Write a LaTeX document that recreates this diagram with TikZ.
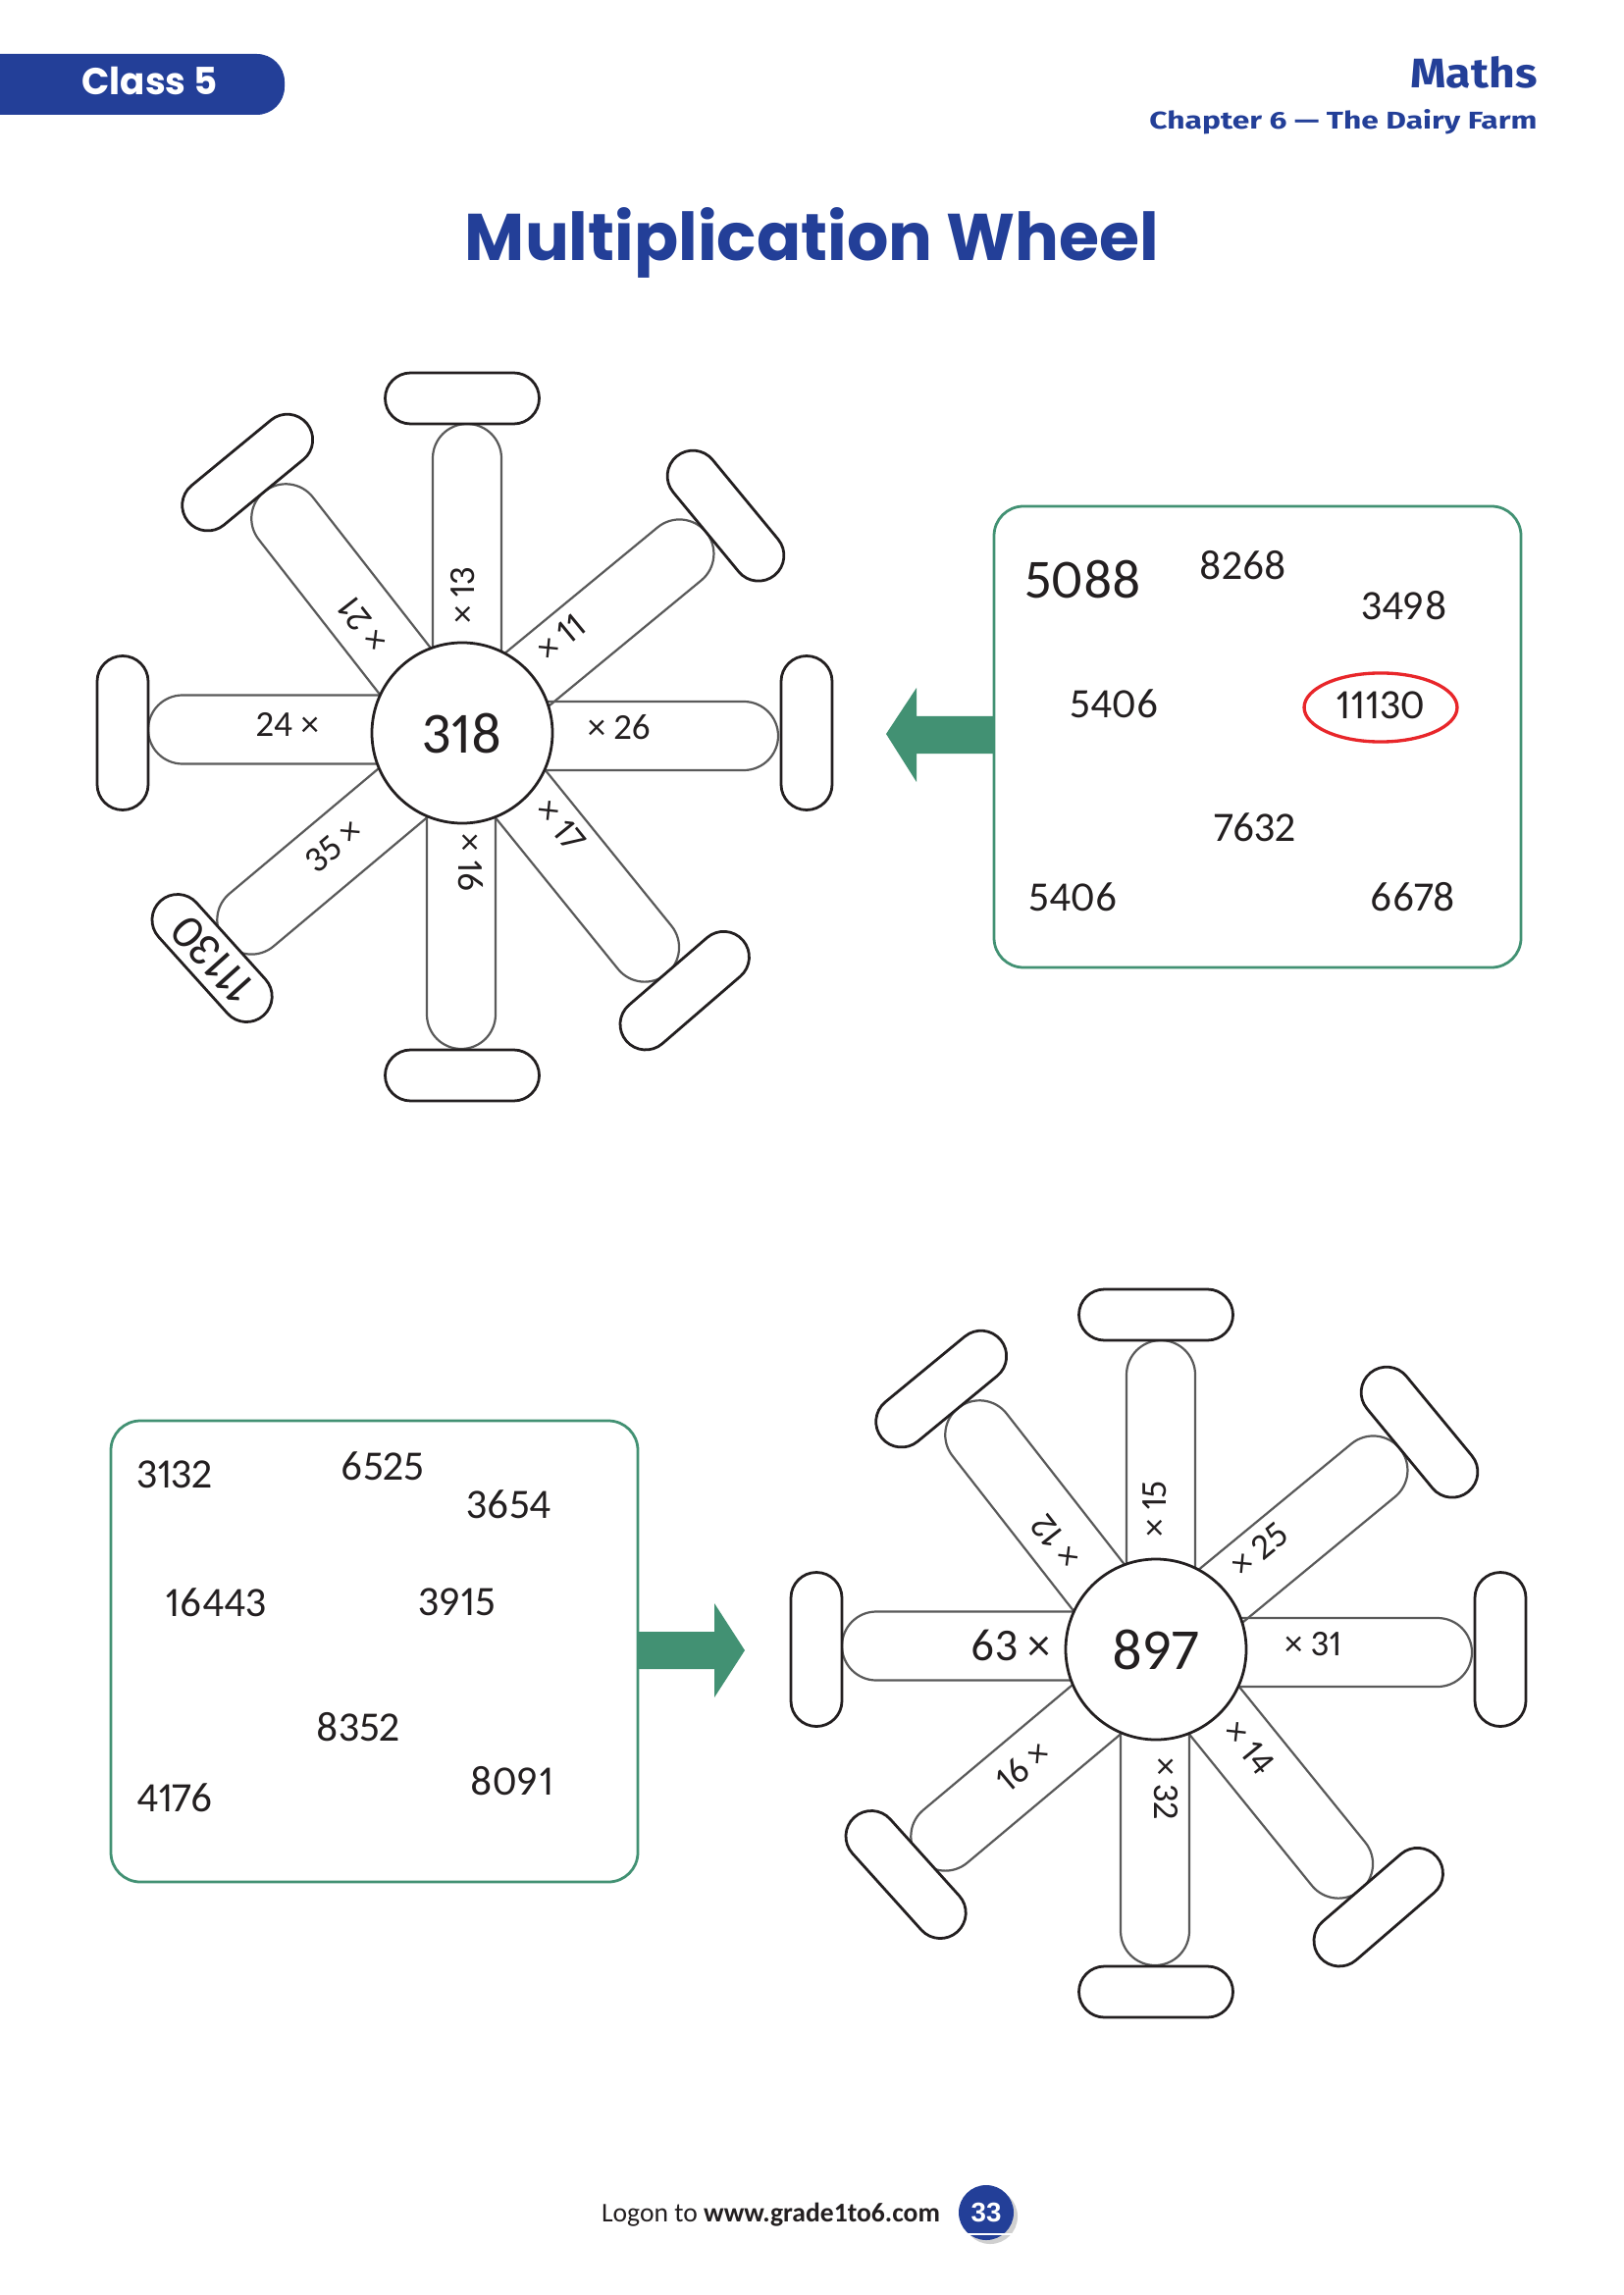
\documentclass[tikz,border=0pt]{standalone}
\usepackage{fontspec}
\setmainfont{Carlito}
\newfontfamily\popfont{Poppins}
\newfontfamily\headfont{Fira Sans}
\newfontfamily\numfont{Carlito}[Numbers=Proportional]
\newfontfamily\pagefont{Liberation Sans}
\definecolor{hblue}{RGB}{35,63,152}
\definecolor{boxgreen}{RGB}{66,145,115}
\definecolor{ink}{RGB}{35,31,32}
\definecolor{spokegray}{RGB}{90,90,90}
\definecolor{ringred}{RGB}{232,38,42}
\tikzset{
  spoke/.style={draw=spokegray, line width=0.8pt, rounded corners=4.445mm},
  capbar/.style={draw=ink, line width=1pt, fill=white, rounded corners=3.302mm},
  hub/.style={circle, draw=ink, line width=1pt, fill=white, minimum size=23.37mm, inner sep=0pt,
              font=\numfont\fontsize{21.4}{24}\selectfont, text=ink},
  lbl/.style={font=\numfont\fontsize{13.4}{15}\selectfont, text=ink, inner sep=0pt},
  biglbl/.style={font=\numfont\fontsize{16.8}{18}\selectfont, text=ink, inner sep=0pt},
  boxnum/.style={font=\numfont\fontsize{15.4}{17}\selectfont, text=ink, inner sep=0pt},
  answerbox/.style={draw=boxgreen, line width=1pt, rounded corners=3.81mm},
}
\newcommand{\mwheel}[2]{%
  \foreach \ang/\off/\len in {0/3/322, 39.5/0/322, 90/5/315, 128/-7/318, 180/3.5/320, 220/-8/322, 270/1/322, 309/-7/322}{
    \begin{scope}[shift={(#1,#2)}, rotate=\ang]
      \draw[spoke] (40,\off-35) rectangle (\len,\off+35);
    \end{scope}}
  \foreach \ang/\dd in {0/351, 39.5/348, 90/341, 129.5/344, 180/346, 222/343, 270/349, 310.8/347}{
    \begin{scope}[shift={(#1,#2)}, rotate=\ang]
      \draw[capbar] (\dd-26,-78.5) rectangle (\dd+26,78.5);
    \end{scope}}
}
\begin{document}
\begin{tikzpicture}[x=0.127mm, y=-0.127mm]
\useasboundingbox (0,0) rectangle (1654,2339);
\fill[white] (0,0) rectangle (1654,2339);

% header
\fill[hblue, rounded corners=3.6mm] (-40,55) rectangle (290,117);
\node[anchor=base west, inner sep=0pt, text=white] (cls) at (83,96.7)
  {\resizebox{17.53mm}{3.59mm}{\popfont\bfseries Class 5}};
\node[anchor=base east, inner sep=0pt, text=hblue] (subj) at (1567,90)
  {\resizebox{16.38mm}{4.06mm}{\headfont\bfseries Maths}};
\node[anchor=base east, inner sep=0pt, text=hblue] (chap) at (1567,132)
  {\resizebox{50.17mm}{2.54mm}{\headfont\bfseries Chapter 6 — The Dairy Farm}};
\node[anchor=base, inner sep=0pt, text=hblue] (title) at (827.5,265.5)
  {\resizebox{89.8mm}{6.85mm}{\popfont\bfseries Multiplication Wheel}};

% ---------- wheel 1 ----------
\mwheel{471}{747}
\node[hub] (hub1) at (471,747) {318};
\node[lbl, rotate=90]   (w1a) at (472,607) {× 13};
\node[lbl, rotate=39.5] (w1b) at (572,650) {× 11};
\node[lbl]              (w1c) at (631,741) {× 26};
\node[lbl, rotate=-51]  (w1d) at (572,841) {× 17};
\node[lbl, rotate=-90]  (w1e) at (480,879) {× 16};
\node[lbl, rotate=40]   (w1f) at (340,862) {35 ×};
\node[lbl]              (w1g) at (293,738) {24 ×};
\node[lbl, rotate=128]  (w1h) at (370,637) {× 21};
\node[font=\numfont\fontsize{17.5}{19}\selectfont, text=ink, inner sep=0pt, rotate=132] (ans1) at (217,978) {11130};

% answer box 1
\draw[answerbox] (1013,516) rectangle (1550,986);
\node[boxnum, font=\numfont\fontsize{20.3}{22}\selectfont] (b1a) at (1104,591) {5088};
\node[boxnum] (b1b) at (1267,576) {8268};
\node[boxnum] (b1c) at (1431,617) {3498};
\node[boxnum] (b1d) at (1136,717) {5406};
\node[boxnum] (b1e) at (1407,719) {11130};
\draw[ringred, line width=1.2pt] (1407,721) ellipse (9.9mm and 4.45mm);
\node[boxnum] (b1f) at (1279,843) {7632};
\node[boxnum] (b1g) at (1094,914) {5406};
\node[boxnum] (b1h) at (1440,914) {6678};
\fill[boxgreen] (1013,730) -- (934,730) -- (934,701) -- (903,748) -- (934,797) -- (934,768) -- (1013,768) -- cycle;

% ---------- wheel 2 ----------
\mwheel{1178}{1681}
\node[hub] (hub2) at (1178,1681) {897};
\node[lbl, rotate=90]   (w2a) at (1177,1538) {× 15};
\node[lbl, rotate=39.5] (w2b) at (1283,1579) {× 25};
\node[lbl]              (w2c) at (1338,1676) {× 31};
\node[lbl, rotate=-51]  (w2d) at (1273,1781) {× 14};
\node[lbl, rotate=-90]  (w2e) at (1188,1823) {× 32};
\node[lbl, rotate=40]   (w2f) at (1042,1800) {16 ×};
\node[biglbl]           (w2g) at (1030,1677) {63 ×};
\node[lbl, rotate=128]  (w2h) at (1076,1571) {× 12};

% answer box 2
\draw[answerbox] (113,1448) rectangle (650,1918);
\node[boxnum] (b2a) at (178,1503) {3132};
\node[boxnum] (b2b) at (390,1494) {6525};
\node[boxnum] (b2c) at (519,1533) {3654};
\node[boxnum] (b2d) at (220,1633) {16443};
\node[boxnum] (b2e) at (466,1633) {3915};
\node[boxnum] (b2f) at (365,1760) {8352};
\node[boxnum] (b2g) at (178,1832) {4176};
\node[boxnum] (b2h) at (522,1815) {8091};
\fill[boxgreen] (650,1663) -- (728,1663) -- (728,1634) -- (759,1682) -- (728,1730) -- (728,1701) -- (650,1701) -- cycle;

% footer
\node[anchor=base, inner sep=0pt, text=ink] (logon) at (785.5,2264)
  {\resizebox{43.8mm}{!}{Logon to \textbf{www.grade1to6.com}}};
\fill[black!30, opacity=0.6] (1009,2259) circle (3.556mm);
\fill[hblue] (1005,2255) circle (3.556mm);
\draw[white, line width=1pt] (979,2277) -- (1031,2277);
\node[inner sep=0pt, text=white, font=\pagefont\bfseries\fontsize{10}{12}\selectfont] (pg) at (1005,2255) {33};
\end{tikzpicture}
\end{document}
